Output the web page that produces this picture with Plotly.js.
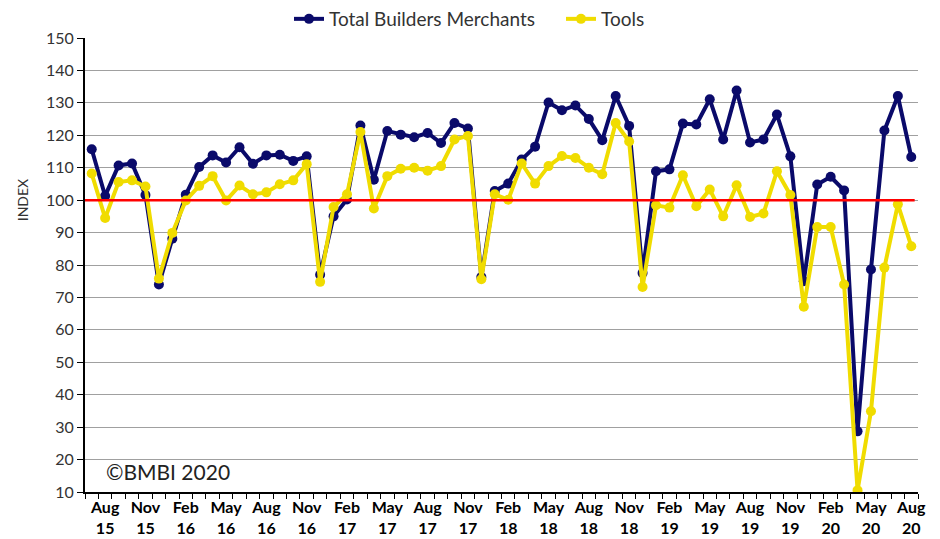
<!DOCTYPE html>
<html>
<head>
<meta charset="utf-8">
<script src="https://cdn.plot.ly/plotly-3.0.1.min.js"></script>
<style>html,body{margin:0;padding:0;background:#fff;}#chart{width:940px;height:539px;}</style>
</head>
<body>
<div id="chart"></div>
<script>
const months = [
  "Jul 15","Aug 15","Sep 15","Oct 15","Nov 15","Dec 15",
  "Jan 16","Feb 16","Mar 16","Apr 16","May 16","Jun 16","Jul 16","Aug 16","Sep 16","Oct 16","Nov 16","Dec 16",
  "Jan 17","Feb 17","Mar 17","Apr 17","May 17","Jun 17","Jul 17","Aug 17","Sep 17","Oct 17","Nov 17","Dec 17",
  "Jan 18","Feb 18","Mar 18","Apr 18","May 18","Jun 18","Jul 18","Aug 18","Sep 18","Oct 18","Nov 18","Dec 18",
  "Jan 19","Feb 19","Mar 19","Apr 19","May 19","Jun 19","Jul 19","Aug 19","Sep 19","Oct 19","Nov 19","Dec 19",
  "Jan 20","Feb 20","Mar 20","Apr 20","May 20","Jun 20","Jul 20","Aug 20"
];
const totalBuildersMerchants = [
  115.7, 101.3, 110.7, 111.3, 101.6, 74.0,
  88.1, 101.7, 110.2, 113.8, 111.6, 116.3, 111.2, 113.8, 114.0, 112.1, 113.5, 77.0,
  95.0, 100.2, 123.0, 106.3, 121.3, 120.2, 119.4, 120.7, 117.6, 123.8, 122.1, 76.3,
  102.8, 105.1, 112.5, 116.5, 130.1, 127.7, 129.2, 125.0, 118.5, 132.1, 122.9, 77.5,
  108.9, 109.5, 123.6, 123.3, 131.1, 118.7, 133.8, 117.8, 118.7, 126.4, 113.5, 75.0,
  104.8, 107.2, 103.0, 28.7, 78.6, 121.5, 132.1, 113.3
];
const tools = [
  108.2, 94.5, 105.6, 106.1, 104.2, 75.8,
  89.9, 99.9, 104.4, 107.4, 99.9, 104.5, 101.8, 102.4, 104.9, 106.1, 111.1, 74.8,
  97.9, 101.8, 121.0, 97.4, 107.4, 109.7, 110.0, 109.1, 110.5, 118.7, 119.8, 75.6,
  101.8, 100.1, 111.3, 105.1, 110.5, 113.6, 113.0, 110.0, 108.0, 123.8, 118.1, 73.2,
  98.4, 97.7, 107.7, 98.1, 103.3, 95.0, 104.6, 94.8, 95.9, 108.9, 101.6, 67.1,
  91.7, 91.7, 74.0, 10.5, 34.9, 79.2, 98.7, 85.8
];
const labelledMonths = ["Feb","May","Aug","Nov"];
const referenceLevel = 100;

const xIdx = months.map((m, i) => i);
const tickvals = [], ticktext = [];
months.forEach((m, i) => {
  const [mon, yr] = m.split(" ");
  if (labelledMonths.includes(mon)) { tickvals.push(i); ticktext.push("<b>" + mon + "<br>" + yr + "</b>"); }
});

const navy = "#0a0a6a";
const yellow = "#f0dc00";

const traces = [
  {
    x: xIdx, y: totalBuildersMerchants, name: "Total Builders Merchants",
    mode: "lines+markers", type: "scatter",
    line: {color: navy, width: 4}, marker: {color: navy, size: 10},
    text: months, hoverinfo: "text+y"
  },
  {
    x: xIdx, y: tools, name: "Tools",
    mode: "lines+markers", type: "scatter",
    line: {color: yellow, width: 4}, marker: {color: yellow, size: 10},
    text: months, hoverinfo: "text+y"
  }
];

const layout = {
  width: 940, height: 539,
  margin: {l: 85, r: 22, t: 38, b: 47},
  paper_bgcolor: "#fff", plot_bgcolor: "#fff",
  font: {family: "Lato, 'Open Sans', sans-serif", color: "#333"},
  showlegend: true,
  legend: {
    orientation: "h", x: 289 / 940, xanchor: "left", xref: "container",
    y: 1.0, yref: "container", yanchor: "top",
    font: {size: 19, color: "#333"}, itemwidth: 30, tracegroupgap: 0,
    entrywidth: 227, entrywidthmode: "pixels"
  },
  xaxis: {
    range: [-0.5, months.length - 0.5],
    tickmode: "array", tickvals: tickvals, ticktext: ticktext,
    ticks: "", showgrid: false, zeroline: false,
    showline: true, linecolor: "#000", linewidth: 2,
    tickfont: {size: 16, color: "#000", family: "Lato, sans-serif"},
    minor: {tickmode: "linear", tick0: 0.5, dtick: 1, ticks: "outside", ticklen: 5, tickcolor: "#000", tickwidth: 1, showgrid: false},
    fixedrange: true
  },
  yaxis: {
    range: [10, 150], dtick: 10, tick0: 10,
    showgrid: true, gridcolor: "#a0a0a0", gridwidth: 1,
    zeroline: false, showline: true, linecolor: "#000", linewidth: 2,
    ticks: "outside", ticklen: 6, tickcolor: "#000",
    tickfont: {size: 16, color: "#333"},
    fixedrange: true
  },
  shapes: [
    {type: "line", xref: "paper", x0: 0, x1: 0.996, yref: "y", y0: referenceLevel, y1: referenceLevel,
     line: {color: "#ff0000", width: 2.5}, layer: "above"}
  ],
  annotations: [
    {text: "©BMBI 2020", xref: "x", yref: "y", x: 0.9, y: 16.2, xanchor: "left", yanchor: "middle",
     showarrow: false, font: {size: 21, color: "#222"}},
    {text: "INDEX", xref: "paper", yref: "y", x: -0.0755, y: referenceLevel, xanchor: "center", yanchor: "middle",
     textangle: -90, showarrow: false, font: {size: 14, color: "#333"}}
  ]
};

Plotly.newPlot("chart", traces, layout, {displayModeBar: false, staticPlot: true});
</script>
</body>
</html>
